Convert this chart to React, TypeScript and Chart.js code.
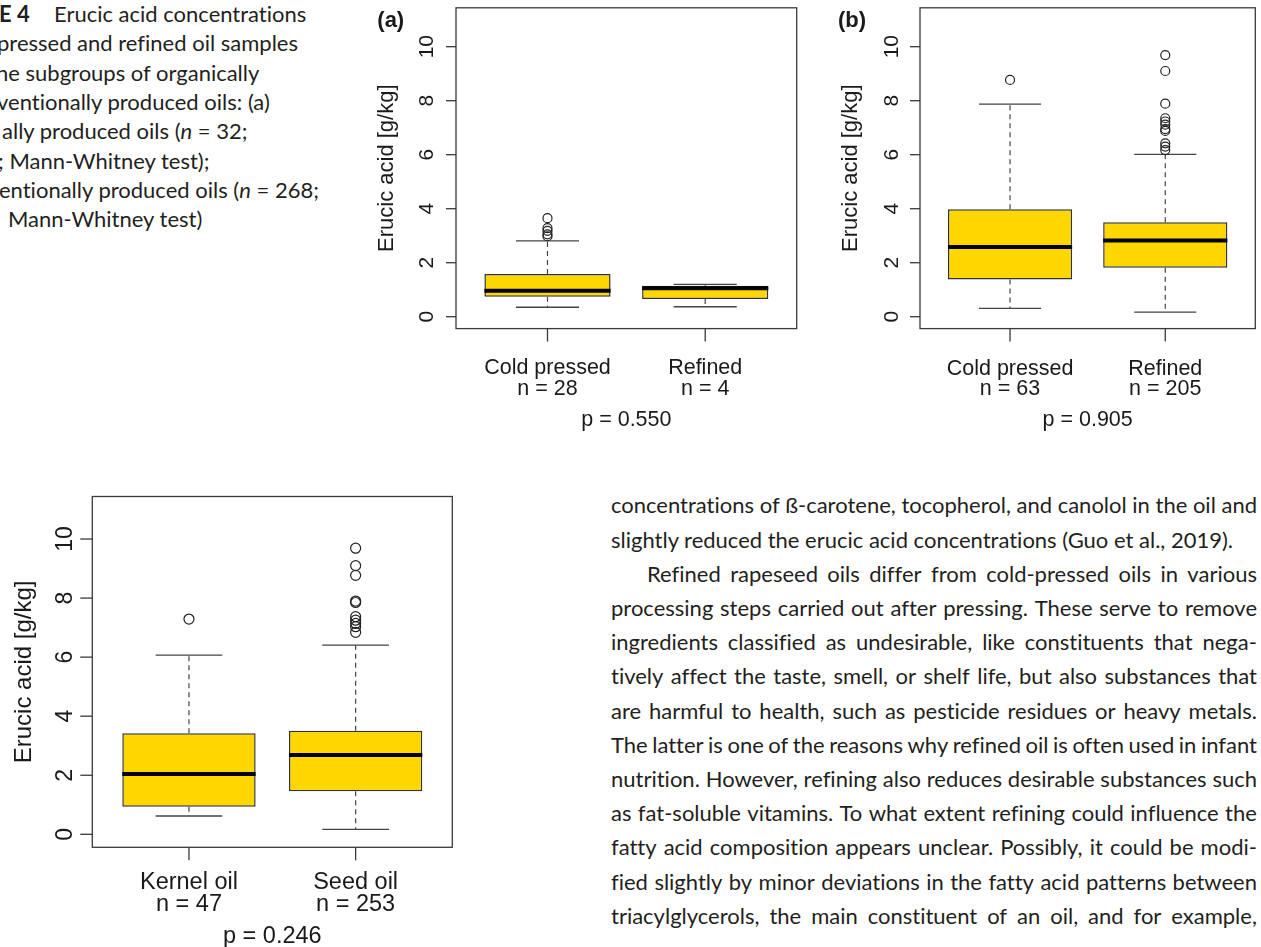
import React, { useEffect, useLayoutEffect, useRef } from "react";
import { Chart, registerables } from "chart.js";

Chart.register(...registerables);

// ---------- Data ----------
const yTicks = [0, 2, 4, 6, 8, 10];
const yTitle = "Erucic acid [g/kg]";

// (a) organically produced oils
const aCategories = ["Cold pressed", "Refined"];
const aCounts = [28, 4];
const aWhiskerLow = [0.35, 0.37];
const aQ1 = [0.74, 0.66];
const aMedian = [0.96, 1.05];
const aQ3 = [1.58, 1.15];
const aWhiskerHigh = [2.81, 1.2];
const aOutliers = [[3.65, 3.28, 3.18, 3.05, 2.98], []];
const aPValue = "p = 0.550";

// (b) conventionally produced oils
const bCategories = ["Cold pressed", "Refined"];
const bCounts = [63, 205];
const bWhiskerLow = [0.31, 0.17];
const bQ1 = [1.38, 1.81];
const bMedian = [2.58, 2.82];
const bQ3 = [3.98, 3.5];
const bWhiskerHigh = [7.87, 6.01];
const bOutliers = [[8.77], [9.69, 9.1, 7.89, 7.35, 7.23, 7.11, 6.95, 6.88, 6.42, 6.3, 6.17]];
const bPValue = "p = 0.905";

// kernel vs seed oil
const cCategories = ["Kernel oil", "Seed oil"];
const cCounts = [47, 253];
const cWhiskerLow = [0.62, 0.17];
const cQ1 = [0.93, 1.46];
const cMedian = [2.04, 2.69];
const cQ3 = [3.42, 3.51];
const cWhiskerHigh = [6.07, 6.41];
const cOutliers = [[7.29], [9.69, 9.1, 8.77, 7.9, 7.85, 7.37, 7.25, 7.14, 7.03, 6.84]];
const cPValue = "p = 0.246";

const captionLines = [
  "pressed and refined oil samples",
  "he subgroups of organically",
  "ventionally produced oils: (a)",
];

const bodyLines = [
  "concentrations of ß-carotene, tocopherol, and canolol in the oil and",
  "slightly reduced the erucic acid concentrations (Guo et al., 2019).",
  "Refined rapeseed oils differ from cold-pressed oils in various",
  "processing steps carried out after pressing. These serve to remove",
  "ingredients classified as undesirable, like constituents that nega-",
  "tively affect the taste, smell, or shelf life, but also substances that",
  "are harmful to health, such as pesticide residues or heavy metals.",
  "The latter is one of the reasons why refined oil is often used in infant",
  "nutrition. However, refining also reduces desirable substances such",
  "as fat-soluble vitamins. To what extent refining could influence the",
  "fatty acid composition appears unclear. Possibly, it could be modi-",
  "fied slightly by minor deviations in the fatty acid patterns between",
  "triacylglycerols, the main constituent of an oil, and for example,",
];
const bodyNotJustified = [1];
const bodyIndented = [2];

// ---------- Types ----------
type Panel = {
  categories: string[];
  counts: number[];
  lo: number[];
  q1: number[];
  med: number[];
  q3: number[];
  hi: number[];
  outliers: number[][];
  pValue: string;
  letter?: string;
};

type Geom = {
  left: number; top: number; width: number; height: number;
  area: { left: number; right: number; top: number; bottom: number };
  font: number; titleFont: number; tickFont: number;
  yTickLen: number; xTickLen: number;
  yTickLabel: number; yTitle: number;
  catBase: number; countBase: number; pBase: number;
  letterX?: number; letterY?: number; letterFont?: number;
  pointR: number;
};

const panelA: Panel = { categories: aCategories, counts: aCounts, lo: aWhiskerLow, q1: aQ1, med: aMedian, q3: aQ3, hi: aWhiskerHigh, outliers: aOutliers, pValue: aPValue, letter: "(a)" };
const panelB: Panel = { categories: bCategories, counts: bCounts, lo: bWhiskerLow, q1: bQ1, med: bMedian, q3: bQ3, hi: bWhiskerHigh, outliers: bOutliers, pValue: bPValue, letter: "(b)" };
const panelC: Panel = { categories: cCategories, counts: cCounts, lo: cWhiskerLow, q1: cQ1, med: cMedian, q3: cQ3, hi: cWhiskerHigh, outliers: cOutliers, pValue: cPValue };

const geomA: Geom = {
  left: 370, top: 0, width: 440, height: 440,
  area: { left: 456, right: 796.7, top: 7.8, bottom: 328.6 },
  font: 21.5, titleFont: 22, tickFont: 21, yTickLen: 10, xTickLen: 13,
  yTickLabel: -22.7, yTitle: -63.3, catBase: 45.4, countBase: 66.4, pBase: 97.4,
  letterX: 377.3, letterY: 27.3, letterFont: 22, pointR: 4.5,
};
const geomB: Geom = {
  left: 830, top: 0, width: 431, height: 440,
  area: { left: 920, right: 1259.3, top: 7.8, bottom: 328.6 },
  font: 21.5, titleFont: 22, tickFont: 21, yTickLen: 10, xTickLen: 13,
  yTickLabel: -21.7, yTitle: -62.7, catBase: 46.4, countBase: 66.4, pBase: 97.4,
  letterX: 838, letterY: 27.3, letterFont: 22, pointR: 4.5,
};
const geomC: Geom = {
  left: 0, top: 480, width: 540, height: 467,
  area: { left: 92.3, right: 452.3, top: 496.5, bottom: 847.3 },
  font: 23.5, titleFont: 24, tickFont: 23, yTickLen: 12, xTickLen: 13,
  yTickLabel: -20.6, yTitle: -61.6, catBase: 42, countBase: 63.4, pBase: 95.4,
  pointR: 5,
};

const FONT = '"Liberation Sans", Arial, Helvetica, sans-serif';
const TEXT = "#1a1a1a";
const LINE = "#3a3a3a";

function makeAxesPlugin(panel: Panel, g: Geom) {
  return {
    id: "rStyleAxes",
    afterDraw(chart: any) {
      const { ctx, chartArea: a, scales } = chart;
      const x = scales.x;
      const y = scales.y;
      ctx.save();
      ctx.strokeStyle = LINE;
      ctx.lineWidth = 1.3;
      ctx.strokeRect(a.left, a.top, a.right - a.left, a.bottom - a.top);
      ctx.fillStyle = TEXT;

      // y ticks & labels (R style: rotated)
      ctx.font = `${g.tickFont}px ${FONT}`;
      for (const v of yTicks) {
        const py = y.getPixelForValue(v);
        ctx.beginPath();
        ctx.moveTo(a.left, py);
        ctx.lineTo(a.left - g.yTickLen, py);
        ctx.stroke();
        ctx.save();
        ctx.translate(a.left + g.yTickLabel, py);
        ctx.rotate(-Math.PI / 2);
        ctx.textAlign = "center";
        ctx.textBaseline = "alphabetic";
        ctx.fillText(String(v), 0, 0);
        ctx.restore();
      }

      // y title
      ctx.font = `${g.titleFont}px ${FONT}`;
      ctx.save();
      ctx.translate(a.left + g.yTitle, (a.top + a.bottom) / 2);
      ctx.rotate(-Math.PI / 2);
      ctx.textAlign = "center";
      ctx.textBaseline = "alphabetic";
      ctx.fillText(yTitle, 0, 0);
      ctx.restore();

      // x ticks & labels
      ctx.font = `${g.font}px ${FONT}`;
      ctx.textAlign = "center";
      ctx.textBaseline = "alphabetic";
      panel.categories.forEach((c, i) => {
        const px = x.getPixelForValue(i + 1);
        ctx.beginPath();
        ctx.moveTo(px, a.bottom);
        ctx.lineTo(px, a.bottom + g.xTickLen);
        ctx.stroke();
        ctx.fillText(c, px, a.bottom + g.catBase);
        ctx.fillText(`n = ${panel.counts[i]}`, px, a.bottom + g.countBase);
      });
      ctx.fillText(panel.pValue, (a.left + a.right) / 2, a.bottom + g.pBase);

      if (panel.letter && g.letterX !== undefined && g.letterY !== undefined) {
        ctx.font = `bold ${g.letterFont}px ${FONT}`;
        ctx.textAlign = "left";
        ctx.fillText(panel.letter, g.letterX - g.left, g.letterY - g.top);
      }
      ctx.restore();
    },
  };
}

function buildDatasets(p: Panel, g: Geom) {
  const boxHalf = 0.4;
  const capHalf = 0.2;
  const boxes = p.q1.map((q, i) => ({ x: i + 1, y: [q, p.q3[i]] }));
  const whiskers: any[] = [];
  const caps: any[] = [];
  const medians: any[] = [];
  p.categories.forEach((_, i) => {
    const x = i + 1;
    whiskers.push({ x, y: p.q3[i] }, { x, y: p.hi[i] }, { x, y: null });
    whiskers.push({ x, y: p.q1[i] }, { x, y: p.lo[i] }, { x, y: null });
    caps.push({ x: x - capHalf, y: p.hi[i] }, { x: x + capHalf, y: p.hi[i] }, { x, y: null });
    caps.push({ x: x - capHalf, y: p.lo[i] }, { x: x + capHalf, y: p.lo[i] }, { x, y: null });
    medians.push({ x: x - boxHalf, y: p.med[i] }, { x: x + boxHalf, y: p.med[i] }, { x, y: null });
  });
  const outliers = p.outliers.flatMap((arr, i) => arr.map((v) => ({ x: i + 1, y: v })));
  return [
    {
      type: "bar",
      data: boxes,
      backgroundColor: "#FFD700",
      borderColor: "#333333",
      borderWidth: 1.5,
      borderSkipped: false,
      categoryPercentage: 1,
      barPercentage: 0.8,
      order: 10,
    },
    {
      type: "line",
      data: whiskers,
      borderColor: "#444444",
      borderWidth: 1.2,
      borderDash: [5, 4],
      pointRadius: 0,
      fill: false,
      spanGaps: false,
      order: 5,
    },
    {
      type: "line",
      data: caps,
      borderColor: "#444444",
      borderWidth: 1.3,
      pointRadius: 0,
      fill: false,
      spanGaps: false,
      order: 4,
    },
    {
      type: "line",
      data: medians,
      borderColor: "#000000",
      borderWidth: 4,
      borderCapStyle: "butt",
      pointRadius: 0,
      fill: false,
      spanGaps: false,
      order: 1,
    },
    {
      type: "scatter",
      data: outliers,
      pointRadius: g.pointR,
      pointBorderWidth: 1.2,
      pointBorderColor: "#222222",
      pointBackgroundColor: "rgba(0,0,0,0)",
      order: 0,
    },
  ];
}

function BoxPanel({ panel, geom }: { panel: Panel; geom: Geom }) {
  const ref = useRef<HTMLCanvasElement | null>(null);
  useEffect(() => {
    if (!ref.current) return;
    const g = geom;
    const padding = {
      left: g.area.left - g.left,
      right: g.left + g.width - g.area.right,
      top: g.area.top - g.top,
      bottom: g.top + g.height - g.area.bottom,
    };
    const chart = new Chart(ref.current, {
      type: "bar",
      data: { datasets: buildDatasets(panel, g) as any },
      options: {
        responsive: false,
        maintainAspectRatio: false,
        animation: false,
        events: [],
        layout: { padding },
        plugins: { legend: { display: false }, tooltip: { enabled: false } },
        scales: {
          x: {
            type: "linear",
            min: 0.42,
            max: 2.58,
            offset: false,
            display: false,
            afterBuildTicks: (s: any) => {
              s.ticks = panel.categories.map((_, i) => ({ value: i + 1 }));
            },
          },
          y: {
            type: "linear",
            min: -0.44,
            max: 11.44,
            display: false,
          },
        },
      } as any,
      plugins: [makeAxesPlugin(panel, g)],
    });
    return () => chart.destroy();
  }, [panel, geom]);
  return (
    <canvas
      ref={ref}
      width={geom.width}
      height={geom.height}
      style={{ position: "absolute", left: geom.left, top: geom.top, width: geom.width, height: geom.height }}
    />
  );
}

const BODY_FONT = 'Lato, "Noto Sans", sans-serif';
const PAGE_TEXT = "#231f20";

function Caption() {
  const fs = 22;
  const lh = 29.3;
  const top0 = -0.9;
  const base: React.CSSProperties = {
    position: "absolute",
    height: lh,
    lineHeight: `${lh}px`,
    whiteSpace: "nowrap",
    fontFamily: BODY_FONT,
    fontSize: fs,
    color: PAGE_TEXT,
    fontVariantLigatures: "no-common-ligatures",
  };
  return (
    <div style={{ position: "absolute", left: 0, top: 0, width: 365, height: 240, overflow: "hidden" }}>
      <div style={{ ...base, top: top0, left: -1, fontWeight: 700 }}>E 4</div>
      <div style={{ ...base, top: top0, left: 54 }}>Erucic acid concentrations</div>
      <div style={{ ...base, top: top0 + lh, left: -3 }}>{captionLines[0]}</div>
      <div style={{ ...base, top: top0 + 2 * lh, left: -4 }}>{captionLines[1]}</div>
      <div style={{ ...base, top: top0 + 3 * lh, left: -3 }}>{captionLines[2]}</div>
      <div style={{ ...base, top: top0 + 4 * lh, left: 2 }}>
        ally produced oils (<i>n</i> = 32;
      </div>
      <div style={{ ...base, top: top0 + 5 * lh, left: -2 }}>; Mann-Whitney test);</div>
      <div style={{ ...base, top: top0 + 6 * lh, left: -1 }}>
        entionally produced oils (<i>n</i> = 268;
      </div>
      <div style={{ ...base, top: top0 + 7 * lh, left: 8 }}>Mann-Whitney test)</div>
    </div>
  );
}

function Body() {
  const left = 611;
  const width = 646;
  const top0 = 487.9;
  const lh = 34.2;
  const fs = 22;
  const wrap = useRef<HTMLDivElement | null>(null);
  useLayoutEffect(() => {
    const root = wrap.current;
    if (!root) return;
    Array.from(root.children).forEach((el: any, i) => {
      const over = el.scrollWidth - el.clientWidth;
      if (over > 0) {
        el.style.letterSpacing = `${-(over + 2) / bodyLines[i].length}px`;
      }
    });
  }, []);
  return (
    <div ref={wrap} style={{ position: "absolute", left, top: top0, width }}>
      {bodyLines.map((line, i) => {
        const justified = !bodyNotJustified.includes(i);
        const indent = bodyIndented.includes(i) ? 36 : 0;
        const words = line.split(" ");
        return (
          <div
            key={i}
            style={{
              height: lh,
              display: "flex",
              alignItems: "center",
              justifyContent: justified ? "space-between" : "flex-start",
              paddingLeft: indent,
              boxSizing: "border-box",
              fontFamily: BODY_FONT,
              fontSize: fs,
              color: PAGE_TEXT,
              whiteSpace: "pre",
              fontVariantLigatures: "no-common-ligatures",
              gap: justified ? 4 : 0,
            }}
          >
            {justified
              ? words.map((w, j) => <span key={j}>{w}</span>)
              : <span>{line}</span>}
          </div>
        );
      })}
    </div>
  );
}

export default function App() {
  return (
    <div style={{ position: "absolute", left: 0, top: 0, width: 1261, height: 947, background: "#ffffff", overflow: "hidden" }}>
      <Caption />
      <BoxPanel panel={panelA} geom={geomA} />
      <BoxPanel panel={panelB} geom={geomB} />
      <BoxPanel panel={panelC} geom={geomC} />
      <Body />
    </div>
  );
}
